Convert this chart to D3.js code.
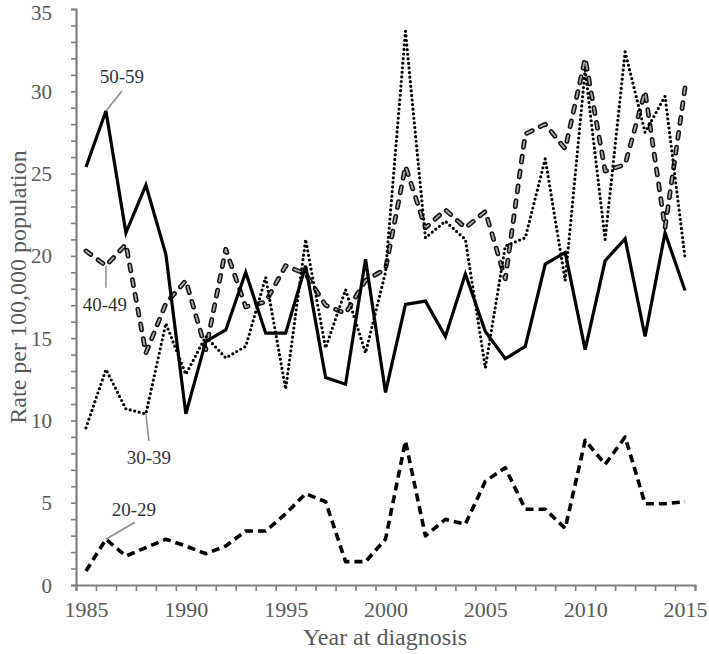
<!DOCTYPE html>
<html>
<head>
<meta charset="utf-8">
<script src="https://cdn.jsdelivr.net/npm/d3@7"></script>
<style>
  body { margin: 0; background: #fff; }
  svg text { font-family: "Liberation Serif", "Times New Roman", serif; }
</style>
</head>
<body>
<div id="chart"></div>
<script>
var years = d3.range(1985, 2016);

var age5059 = [25.4, 28.8, 21.4, 24.3, 20.1, 10.4, 14.8, 15.5, 19.0, 15.3,
    15.3, 19.4, 12.6, 12.2, 19.8, 11.7, 17.05, 17.25, 15.1, 18.9,
    15.4, 13.75, 14.5, 19.5, 20.2, 14.3, 19.7, 21.05, 15.1, 21.4, 17.9];
var age4049 = [20.3, 19.4, 20.7, 14.1, 17.1, 18.5, 14.3, 20.4, 16.9, 17.2,
    19.4, 18.9, 17.0, 16.5, 18.5, 19.2, 25.45, 21.7, 22.8, 21.7,
    22.7, 18.6, 27.4, 28.0, 26.5, 32.0, 25.15, 25.55, 30.0, 21.7, 30.2];
var age3039 = [9.55, 13.1, 10.7, 10.4, 15.9, 12.8, 15.1, 13.8, 14.5, 18.7,
    11.9, 21.0, 14.4, 17.95, 14.1, 19.0, 33.65, 21.1, 22.1, 21.0,
    13.2, 20.6, 21.1, 25.9, 18.5, 31.3, 21.0, 32.4, 27.5, 29.7, 19.9];
var age2029 = [0.85, 2.78, 1.76, 2.27, 2.78, 2.37, 1.9, 2.37, 3.28, 3.28,
    4.33, 5.55, 5.06, 1.42, 1.42, 2.78, 8.75, 2.98, 3.99, 3.69,
    6.3, 7.13, 4.6, 4.6, 3.44, 8.79, 7.33, 8.99, 4.94, 4.94, 5.06];

var xTickLabels = [1985, 1990, 1995, 2000, 2005, 2010, 2015];
var yTickLabels = [0, 5, 10, 15, 20, 25, 30, 35];

var svgWidth = 709;
var svgHeight = 654;

var svg = d3.select("#chart")
    .append("svg")
    .attr("width", svgWidth)
    .attr("height", svgHeight);

// scales: categories sit between tick marks, like an Excel category axis
var x = d3.scaleLinear().domain([1984.5, 2015.5]).range([76, 695]);
var y = d3.scaleLinear().domain([0, 35]).range([585, 9]);

var axisColor = "#7f7f7f";
var labelColor = "#595959";

// X axis tick marks at category boundaries
var xAxisG = svg.append("g")
    .attr("transform", "translate(0," + y(0) + ")")
    .call(d3.axisBottom(x)
        .tickValues(d3.range(1984.5, 2016, 1))
        .tickSize(6)
        .tickFormat(""));
xAxisG.select(".domain").attr("stroke", axisColor).attr("stroke-width", 2.2);
xAxisG.selectAll(".tick line").attr("stroke", axisColor).attr("stroke-width", 1.6);

// X labels at category centres
var xLabG = svg.append("g")
    .attr("transform", "translate(0," + y(0) + ")")
    .call(d3.axisBottom(x)
        .tickValues(xTickLabels)
        .tickSize(0)
        .tickPadding(0)
        .tickFormat(d3.format("d")));
xLabG.select(".domain").remove();
xLabG.selectAll("text")
    .attr("y", 32)
    .attr("dy", 0)
    .attr("fill", labelColor)
    .style("font-size", "22px");

// Y axis: minor ticks every unit, labels every 5
var yAxisG = svg.append("g")
    .attr("transform", "translate(" + x(1984.5) + ",0)")
    .call(d3.axisLeft(y)
        .tickValues(d3.range(0, 36, 1))
        .tickSize(5)
        .tickPadding(19)
        .tickFormat(function (d) { return yTickLabels.indexOf(d) >= 0 ? d : ""; }));
yAxisG.select(".domain").attr("stroke", axisColor).attr("stroke-width", 2.2);
yAxisG.selectAll(".tick line").attr("stroke", axisColor).attr("stroke-width", 1.6);
yAxisG.selectAll("text")
    .attr("fill", labelColor)
    .attr("dy", function (d) { return d === 35 ? "0.5em" : "0.34em"; })
    .style("font-size", "21px");

// Axis titles
svg.append("text")
    .attr("x", 385)
    .attr("y", 645)
    .attr("text-anchor", "middle")
    .attr("fill", labelColor)
    .style("font-size", "24px")
    .text("Year at diagnosis");

svg.append("text")
    .attr("transform", "translate(26,287)rotate(-90)")
    .attr("text-anchor", "middle")
    .attr("fill", labelColor)
    .style("font-size", "24px")
    .text("Rate per 100,000 population");

// Lines
var line = d3.line()
    .x(function (d, i) { return x(years[i]); })
    .y(function (d) { return y(d); });

var plot = svg.append("g").attr("fill", "none");

// 40-49: outlined long dashes
plot.append("path")
    .attr("d", line(age4049))
    .attr("stroke", "#111")
    .attr("stroke-width", 4.8)
    .attr("stroke-dasharray", "6 9")
    .attr("stroke-linecap", "round")
    .attr("stroke-linejoin", "round");
plot.append("path")
    .attr("d", line(age4049))
    .attr("stroke", "#a8a8a8")
    .attr("stroke-width", 1.8)
    .attr("stroke-dasharray", "6 9")
    .attr("stroke-linecap", "round")
    .attr("stroke-linejoin", "round");

// 30-39: dotted
plot.append("path")
    .attr("d", line(age3039))
    .attr("stroke", "#000")
    .attr("stroke-width", 3.2)
    .attr("stroke-dasharray", "0 4.6")
    .attr("stroke-linecap", "round")
    .attr("stroke-linejoin", "round");

// 50-59: solid
plot.append("path")
    .attr("d", line(age5059))
    .attr("stroke", "#000")
    .attr("stroke-width", 3.2)
    .attr("stroke-linejoin", "miter");

// 20-29: short dashes
plot.append("path")
    .attr("d", line(age2029))
    .attr("stroke", "#000")
    .attr("stroke-width", 3.6)
    .attr("stroke-dasharray", "8 5")
    .attr("stroke-linejoin", "round");

// Series labels with leader lines
var labels = [
    { name: "50-59", year: 1986, value: age5059[1], lx: 16, ly: -20, tx: 16, ty: -28 },
    { name: "40-49", year: 1986, value: age4049[1], lx: 0, ly: 22, tx: -1, ty: 45 },
    { name: "30-39", year: 1988, value: age3039[3], lx: 3, ly: 27, tx: 3, ty: 50 },
    { name: "20-29", year: 1986, value: age2029[1], lx: 29, ly: -17, tx: 28, ty: -23 }
];

var lab = svg.append("g").selectAll("g").data(labels).enter().append("g")
    .attr("transform", function (d) {
        return "translate(" + x(d.year) + "," + y(d.value) + ")";
    });
lab.append("line")
    .attr("x1", 0).attr("y1", 0)
    .attr("x2", function (d) { return d.lx; })
    .attr("y2", function (d) { return d.ly; })
    .attr("stroke", "#8c8c8c")
    .attr("stroke-width", 1.5);
lab.append("text")
    .attr("x", function (d) { return d.tx; })
    .attr("y", function (d) { return d.ty; })
    .attr("text-anchor", "middle")
    .attr("fill", "#333")
    .style("font-size", "19px")
    .text(function (d) { return d.name; });
</script>
</body>
</html>
